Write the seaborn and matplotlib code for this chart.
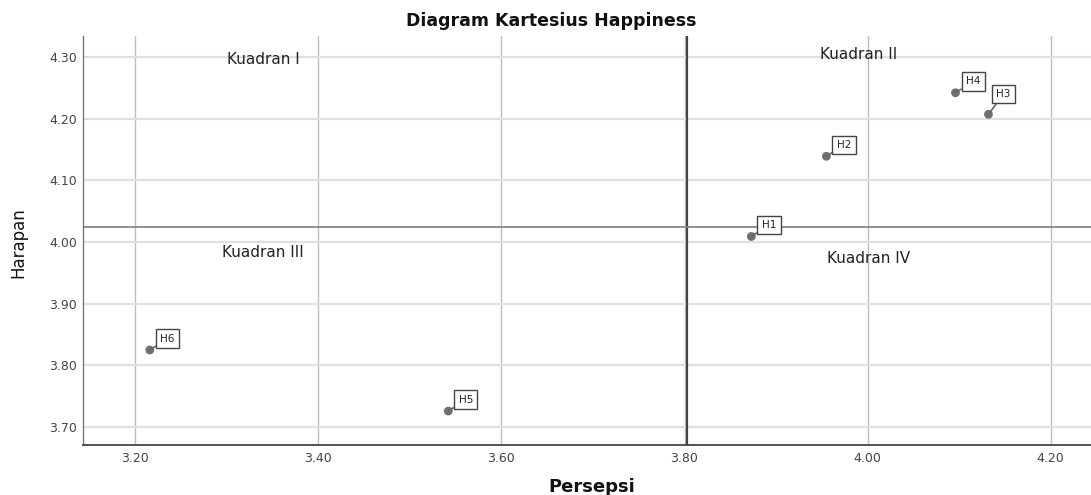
import matplotlib
matplotlib.use("Agg")
import matplotlib.pyplot as plt
import seaborn as sns
import pandas as pd
import numpy as np
from matplotlib.ticker import FormatStrFormatter

labels = ["H1", "H2", "H3", "H4", "H5", "H6"]
persepsi = [3.873, 3.955, 4.132, 4.096, 3.542, 3.216]
harapan = [4.009, 4.139, 4.207, 4.242, 3.726, 3.825]

quadrant_names = ["Kuadran I", "Kuadran II", "Kuadran III", "Kuadran IV"]
quadrant_x = [3.34, 3.990, 3.34, 4.001]
quadrant_y = [4.2956, 4.304, 3.983, 3.973]

x_ticks = [3.20, 3.40, 3.60, 3.80, 4.00, 4.20]
y_ticks = [3.70, 3.80, 3.90, 4.00, 4.10, 4.20, 4.30]

df = pd.DataFrame({"Label": labels, "Persepsi": persepsi, "Harapan": harapan})

sns.set_theme(style="white")
plt.rcParams['font.family'] = ['DejaVu Sans']

W, H = 1091, 495
fig = plt.figure(figsize=(W / 100, H / 100), dpi=100)
ax = fig.add_axes([83 / W, 1 - 445 / H, 1 - 83 / W, (445 - 36) / H])

ax.set_xlim(3.143, 4.244)
ax.set_ylim(3.671, 4.334)
ax.set_xticks(x_ticks)
ax.set_yticks(y_ticks)
ax.xaxis.set_major_formatter(FormatStrFormatter("%.2f"))
ax.yaxis.set_major_formatter(FormatStrFormatter("%.2f"))
ax.grid(True, axis="x", color="#bdbdbd", linewidth=1.0)
ax.grid(True, axis="y", color="#e0e0e0", linewidth=1.6)
ax.set_axisbelow(True)

mx = float(np.mean(persepsi))
my = float(np.mean(harapan))
ax.axvline(mx, color="#444444", linewidth=1.6, zorder=2)
ax.axhline(my, color="#888888", linewidth=1.3, zorder=2)

sns.scatterplot(data=df, x="Persepsi", y="Harapan", ax=ax, color="#707070",
                s=40, edgecolor="none", zorder=4)

for lab, xv, yv in zip(labels, persepsi, harapan):
    off = (7.5, 4.6) if lab != "H3" else (5.6, 11.0)
    ax.annotate(lab, (xv, yv), xytext=off, textcoords="offset points",
                fontsize=7.5, color="#222222", ha="left", va="bottom",
                bbox=dict(boxstyle="square,pad=0.42", fc="white", ec="#444444", lw=1.0),
                arrowprops=dict(arrowstyle="-", color="#666666", lw=1.2,
                                shrinkA=0, shrinkB=0),
                zorder=5)

for name, qx, qy in zip(quadrant_names, quadrant_x, quadrant_y):
    ax.text(qx, qy, name, fontsize=11, color="#222222", ha="center", va="center", zorder=3)

for side in ["top", "right"]:
    ax.spines[side].set_visible(False)
ax.spines["left"].set_color("#777777")
ax.spines["bottom"].set_color("#444444")
ax.spines["left"].set_linewidth(1.0)
ax.spines["bottom"].set_linewidth(1.3)

ax.tick_params(axis="both", labelsize=9, colors="#444444", length=0)
ax.tick_params(axis="x", pad=5)
ax.tick_params(axis="y", pad=4.5)
ax.set_xlabel("")
ax.set_ylabel("")

fig.text(592 / W, 1 - 487 / H, "Persepsi", fontsize=13, fontweight="bold",
         color="#111111", ha="center", va="center")
fig.text(18 / W, 1 - 243 / H, "Harapan", fontsize=12, color="#111111",
         ha="center", va="center", rotation=90)
fig.text(551 / W, 1 - 21 / H, "Diagram Kartesius Happiness", fontsize=12.5,
         fontweight="bold", color="#111111", ha="center", va="center")

fig.savefig("out.png", dpi=100)
